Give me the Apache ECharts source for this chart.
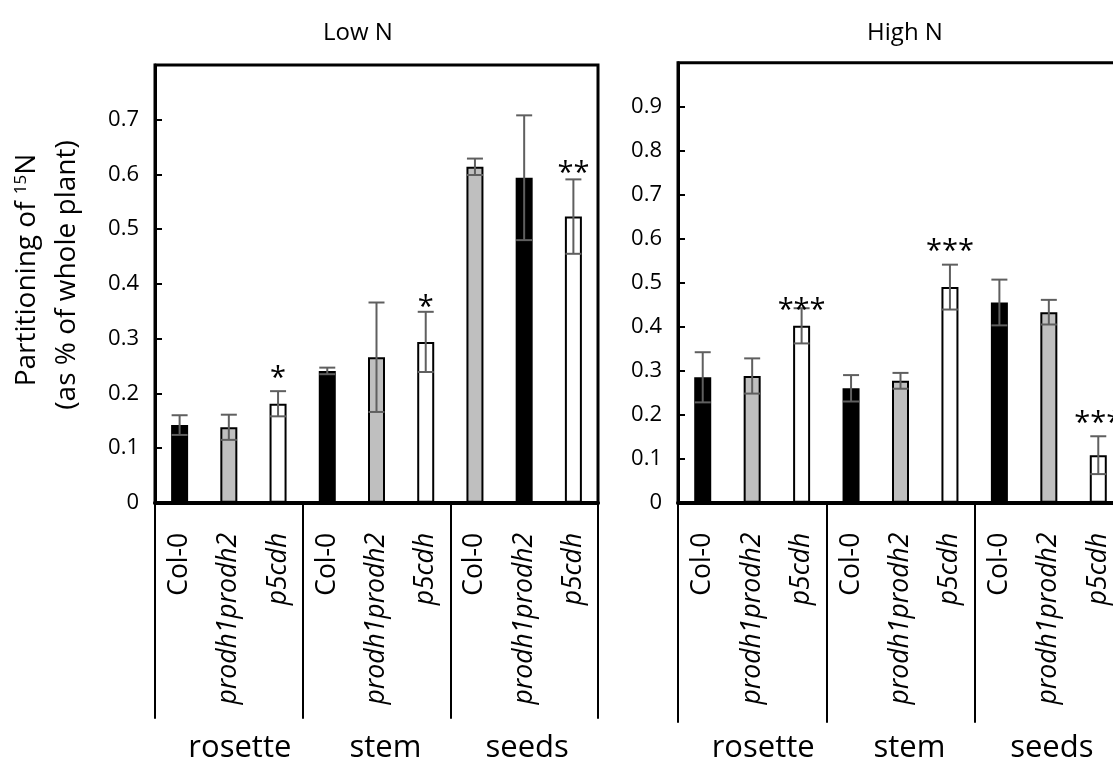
<!DOCTYPE html>
<html>
<head>
<meta charset="utf-8">
<script src="https://cdn.jsdelivr.net/npm/echarts@6/dist/echarts.min.js"></script>
<style>
html,body{margin:0;padding:0;background:#fff;}
#chart{width:1113px;height:764px;}
</style>
</head>
<body>
<div id="chart"></div>
<script>
// ---- data ----
const genotypes = ['Col-0', 'prodh1prodh2', 'p5cdh'];
const tissues = ['rosette', 'stem', 'seeds'];
const panelTitles = ['Low N', 'High N'];
const yTitle1 = 'Partitioning of ';
const yTitleSup = '15';
const yTitleEnd = 'N';
const yTitle2 = '(as % of whole plant)';

const lowMean = [0.142, 0.138, 0.181, 0.241, 0.266, 0.294, 0.614, 0.594, 0.523];
const lowErr  = [0.018, 0.023, 0.023, 0.006, 0.100, 0.055, 0.015, 0.114, 0.068];
const lowFill = ['black', 'grey', 'white', 'black', 'grey', 'white', 'grey', 'black', 'white'];
const lowSig  = ['', '', '*', '', '', '*', '', '', '**'];
const lowSigY = [null, null, 0.237, null, null, 0.367, null, null, 0.612];

const highMean = [0.285, 0.288, 0.402, 0.260, 0.277, 0.490, 0.455, 0.433, 0.108];
const highErr  = [0.057, 0.040, 0.040, 0.030, 0.018, 0.051, 0.052, 0.028, 0.043];
const highFill = ['black', 'grey', 'white', 'black', 'grey', 'white', 'black', 'grey', 'white'];
const highSig  = ['', '', '***', '', '', '***', '', '', '***'];
const highSigY = [null, null, 0.449, null, null, 0.583, null, null, 0.193];

const lowMax = 0.8, highMax = 1.0, yInterval = 0.1;

// ---- styling ----
const FONT = 'Open Sans';
const fillColors = { black: '#000000', grey: '#bfbfbf', white: '#ffffff' };
const errColor = '#5f5f5f';
const groupShift = [22, 18, 6];

const catKeys = [];
tissues.forEach(t => genotypes.forEach(g => catKeys.push(t + '|' + g)));

function grid(left, top, width, height) {
  return { left, top, width, height, show: true, borderColor: '#000', borderWidth: 3,
    containLabel: false, outerBoundsMode: 'none' };
}

function catAxis(gi, tickLen) {
  return {
    type: 'category', gridIndex: gi, data: catKeys, position: 'bottom',
    axisLine: { show: true, lineStyle: { color: '#000', width: 4 } },
    axisTick: { show: true, alignWithLabel: false, interval: (i) => i % 3 === 0, length: tickLen,
      lineStyle: { color: '#000', width: 2 } },
    axisLabel: {
      rotate: 90, margin: 30, interval: 0, hideOverlap: false,
      formatter: (v) => {
        const g = v.split('|')[1];
        return g === 'Col-0' ? '{n|' + g + '}' : '{i|' + g + '}';
      },
      rich: {
        n: { fontFamily: FONT, fontSize: 26.5, color: '#000' },
        i: { fontFamily: FONT, fontSize: 26.5, fontStyle: 'italic', color: '#000' }
      }
    },
    splitLine: { show: false }
  };
}

function groupAxis(gi) {
  const rich = {};
  tissues.forEach((t, k) => {
    rich['g' + k] = { fontFamily: FONT, fontSize: 31, color: '#000', padding: [0, 0, 0, groupShift[k]] };
  });
  return {
    type: 'category', gridIndex: gi, data: tissues, position: 'bottom',
    axisLine: { show: false }, axisTick: { show: false },
    axisLabel: { margin: 230, interval: 0, hideOverlap: false,
      formatter: (v) => '{g' + tissues.indexOf(v) + '|' + v + '}', rich: rich },
    splitLine: { show: false }
  };
}

function valAxis(gi, max) {
  return {
    type: 'value', gridIndex: gi, min: 0, max: max, interval: yInterval,
    axisLine: { show: true, lineStyle: { color: '#000', width: 3 } },
    axisTick: { show: true, inside: true, length: 7, lineStyle: { color: '#000', width: 2 } },
    axisLabel: {
      margin: 16, fontFamily: FONT, fontSize: 22, color: '#000',
      formatter: (v) => (v >= max - 1e-9 ? '' : String(+v.toFixed(1)))
    },
    splitLine: { show: false }
  };
}

function barSeries(xi, yi, mean, fill) {
  return {
    type: 'bar', xAxisIndex: xi, yAxisIndex: yi, barWidth: 17,
    data: mean.map((m, i) => ({ value: m, itemStyle: { color: fillColors[fill[i]] } })),
    itemStyle: { borderColor: '#000', borderWidth: 2 },
    silent: true
  };
}

function errSeries(xi, yi, mean, err) {
  return {
    type: 'custom', xAxisIndex: xi, yAxisIndex: yi, silent: true, z: 5,
    data: mean.map((m, i) => [i, m, err[i]]),
    renderItem: (params, api) => {
      const i = api.value(0), m = api.value(1), e = api.value(2);
      const top = api.coord([i, m + e]);
      const bot = api.coord([i, m - e]);
      const h = 8;
      const st = { stroke: errColor, lineWidth: 2 };
      return {
        type: 'group', children: [
          { type: 'line', shape: { x1: top[0], y1: top[1], x2: bot[0], y2: bot[1] }, style: st },
          { type: 'line', shape: { x1: top[0] - h, y1: top[1], x2: top[0] + h, y2: top[1] }, style: st },
          { type: 'line', shape: { x1: bot[0] - h, y1: bot[1], x2: bot[0] + h, y2: bot[1] }, style: st }
        ]
      };
    }
  };
}

function sigSeries(xi, yi, sig, sigY) {
  const data = [];
  sig.forEach((s, i) => { if (s) data.push([i, sigY[i]]); });
  return {
    type: 'custom', xAxisIndex: xi, yAxisIndex: yi, silent: true, z: 6,
    data: data,
    renderItem: (params, api) => {
      const i = api.value(0), y = api.value(1);
      const p = api.coord([i, y]);
      return {
        type: 'text', x: p[0], y: p[1] + 6,
        style: { text: sig[i], fontFamily: FONT, fontSize: 29, fill: '#000', align: 'center', verticalAlign: 'middle' }
      };
    }
  };
}

const option = {
  animation: false,
  backgroundColor: '#fff',
  grid: [grid(155, 65, 443, 437.8), grid(678, 62.7, 445, 440)],
  xAxis: [catAxis(0, 216), groupAxis(0), catAxis(1, 220), groupAxis(1)],
  yAxis: [valAxis(0, lowMax), valAxis(1, highMax)],
  series: [
    barSeries(0, 0, lowMean, lowFill),
    errSeries(0, 0, lowMean, lowErr),
    sigSeries(0, 0, lowSig, lowSigY),
    barSeries(2, 1, highMean, highFill),
    errSeries(2, 1, highMean, highErr),
    sigSeries(2, 1, highSig, highSigY)
  ],
  graphic: [
    { type: 'text', x: 358, y: 33, style: { text: panelTitles[0], fontFamily: FONT, fontSize: 24, fill: '#000', align: 'center', verticalAlign: 'middle' } },
    { type: 'text', x: 905, y: 33, style: { text: panelTitles[1], fontFamily: FONT, fontSize: 24, fill: '#000', align: 'center', verticalAlign: 'middle' } },
    { type: 'text', x: 27, y: 270, rotation: Math.PI / 2,
      style: { text: yTitle1 + '{sup|' + yTitleSup + '}' + yTitleEnd, fontFamily: FONT, fontSize: 28, fill: '#000',
        align: 'center', verticalAlign: 'middle',
        rich: { sup: { fontFamily: FONT, fontSize: 17, verticalAlign: 'top', fill: '#000' } } } },
    { type: 'text', x: 67, y: 275, rotation: Math.PI / 2,
      style: { text: yTitle2, fontFamily: FONT, fontSize: 28, fill: '#000', align: 'center', verticalAlign: 'middle' } }
  ]
};

const chart = echarts.init(document.getElementById('chart'), null, { renderer: 'canvas' });
chart.setOption(option);
</script>
</body>
</html>
